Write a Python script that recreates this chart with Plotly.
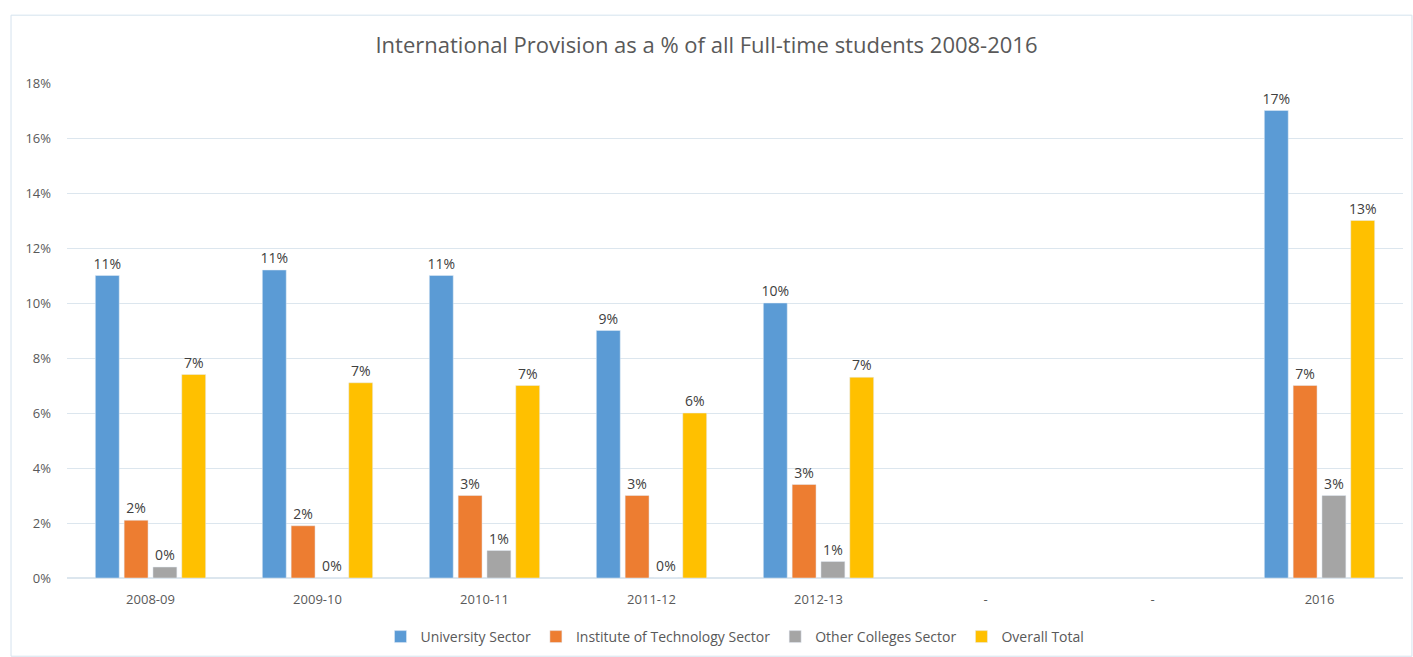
import plotly.graph_objects as go

categories = ["2008-09", "2009-10", "2010-11", "2011-12", "2012-13", "-", "-", "2016"]
university = [0.110, 0.112, 0.110, 0.090, 0.100, None, None, 0.170]
institute = [0.021, 0.019, 0.030, 0.030, 0.034, None, None, 0.070]
other = [0.004, 0.000, 0.010, 0.000, 0.006, None, None, 0.030]
overall = [0.074, 0.071, 0.070, 0.060, 0.073, None, None, 0.130]

series = [
    ("University Sector", university, "#5B9BD5"),
    ("Institute of Technology Sector", institute, "#ED7D31"),
    ("Other Colleges Sector", other, "#A5A5A5"),
    ("Overall Total", overall, "#FFC000"),
]

FONT = "Open Sans, Lato, sans-serif"
TXT = "#595959"
x = list(range(len(categories)))

fig = go.Figure()
for name, vals, color in series:
    fig.add_trace(go.Bar(
        x=x, y=vals, name=name, marker_color=color,
        texttemplate="%{y:.0%}", textposition="outside",
        constraintext="none",
        textfont=dict(family=FONT, size=14, color="#404040"),
        cliponaxis=False,
    ))

fig.update_layout(
    width=1413, height=657,
    margin=dict(l=67, r=10, t=83, b=79),
    paper_bgcolor="white", plot_bgcolor="white",
    barmode="group", bargap=0.31, bargroupgap=0.17,
    title=dict(text="International Provision as a % of all Full-time students 2008-2016",
               x=0.5, xanchor="center", y=1 - 45 / 657, yanchor="middle",
               font=dict(family=FONT, size=22, color=TXT)),
    font=dict(family=FONT, size=13, color=TXT),
    legend=dict(orientation="h", x=0.5, xanchor="center",
                yref="container", y=1 - 637 / 657, yanchor="middle",
                font=dict(family=FONT, size=14, color=TXT), itemwidth=30,
                traceorder="normal"),
    xaxis=dict(tickmode="array", tickvals=x, ticktext=categories,
               range=[-0.5, len(categories) - 0.5], showgrid=False,
               showline=False, ticks="", ticklabelstandoff=12,
               tickfont=dict(size=13, color=TXT)),
    yaxis=dict(range=[0, 0.18], dtick=0.02, tickformat=".0%",
               gridcolor="#DCE6EE", zeroline=True, zerolinecolor="#DCE6EE",
               showline=False, ticks="", ticklabelstandoff=15,
               tickfont=dict(size=13, color=TXT)),
    shapes=[dict(type="rect", xref="paper", yref="paper",
                 x0=-0.0419, x1=1.0067, y0=-0.158, y1=1.137,
                 line=dict(color="#D5E3EE", width=1), fillcolor="rgba(0,0,0,0)",
                 layer="below")],
)

fig.write_html("out.html")
